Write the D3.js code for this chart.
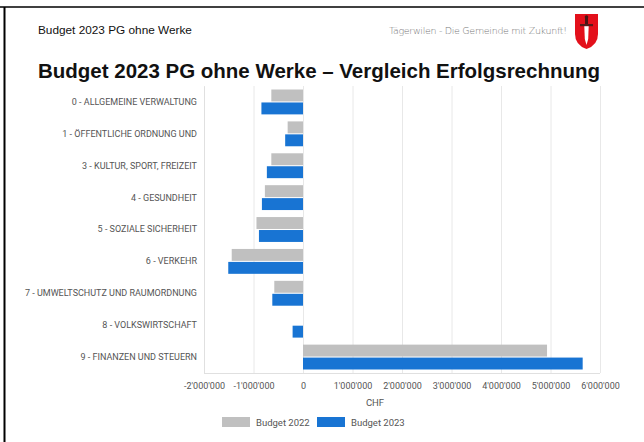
<!DOCTYPE html>
<html lang="de">
<head>
<meta charset="UTF-8">
<title>Budget 2023 PG ohne Werke</title>
<script src="https://cdn.jsdelivr.net/npm/d3@7"></script>
<style>
    body { margin: 0; background: #fff; }
    text { font-family: Roboto, "Liberation Sans", Arial, sans-serif; }
    .grid line { stroke: #e8e8e8; }
</style>
</head>
<body>
<script>
    // Kategorien (Funktionen)
    var categories = [
        "0 - ALLGEMEINE VERWALTUNG",
        "1 - ÖFFENTLICHE ORDNUNG UND",
        "3 - KULTUR, SPORT, FREIZEIT",
        "4 - GESUNDHEIT",
        "5 - SOZIALE SICHERHEIT",
        "6 - VERKEHR",
        "7 - UMWELTSCHUTZ UND RAUMORDNUNG",
        "8 - VOLKSWIRTSCHAFT",
        "9 - FINANZEN UND STEUERN"
    ];
    var budget2022 = [-640000, -310000, -640000, -770000, -940000, -1440000, -580000, 0, 4930000];
    var budget2023 = [-840000, -360000, -730000, -830000, -890000, -1510000, -620000, -210000, 5650000];
    var seriesNames = ["Budget 2022", "Budget 2023"];
    var seriesColors = ["#c0c0c0", "#1874d3"];
    var xTicks = [-2000000, -1000000, 0, 1000000, 2000000, 3000000, 4000000, 5000000, 6000000];

    var W = 644, H = 442;
    var svg = d3.select("body").append("svg")
        .attr("width", W).attr("height", H);

    // Rahmen
    svg.append("line").attr("x1", 0).attr("x2", W).attr("y1", 7).attr("y2", 7)
        .attr("stroke", "#000").attr("stroke-width", 1.5);
    svg.append("line").attr("x1", 4.5).attr("x2", 4.5).attr("y1", 7).attr("y2", H)
        .attr("stroke", "#000").attr("stroke-width", 2);

    // Kopfzeile
    svg.append("text").attr("x", 38).attr("y", 34)
        .attr("font-size", "11.8px").attr("fill", "#111")
        .style("font-family", "'Liberation Sans', Arial, sans-serif")
        .text("Budget 2023 PG ohne Werke");
    svg.append("text").attr("x", 567).attr("y", 34)
        .attr("text-anchor", "end")
        .attr("font-size", "9.5px").attr("fill", "#777")
        .style("font-family", "'DejaVu Sans', sans-serif")
        .style("font-weight", "200")
        .attr("textLength", 178)
        .text("Tägerwilen - Die Gemeinde mit Zukunft!");

    // Wappen
    var logo = svg.append("g").attr("transform", "translate(575,14)");
    logo.append("path")
        .attr("d", "M0,0 H23 V20 Q23,31 11.5,35 Q0,31 0,20 Z")
        .attr("fill", "#e3101b");
    logo.append("path")
        .attr("d", "M9.3,12 H13.7 L13.2,25 L11.5,31 L9.8,25 Z")
        .attr("fill", "#fff");
    logo.append("rect").attr("x", 5).attr("y", 10).attr("width", 13).attr("height", 2.2)
        .attr("fill", "#5a1a1a");
    logo.append("rect").attr("x", 10).attr("y", 3).attr("width", 3).attr("height", 7)
        .attr("fill", "#4a1515");
    logo.append("circle").attr("cx", 11.5).attr("cy", 3).attr("r", 1.8)
        .attr("fill", "#4a1515");

    // Titel
    svg.append("text").attr("x", 38).attr("y", 78)
        .attr("font-size", "20.5px").attr("font-weight", "bold").attr("fill", "#111")
        .style("font-family", "'Liberation Sans', Arial, sans-serif")
        .attr("textLength", 562)
        .text("Budget 2023 PG ohne Werke – Vergleich Erfolgsrechnung");

    // Skalen
    var x = d3.scaleLinear().domain([-2000000, 6000000]).range([204, 600]);
    var y = d3.scaleBand().domain(categories).range([86, 373]).paddingInner(0.22).paddingOuter(0.11);
    var ySub = d3.scaleBand().domain(seriesNames).range([0, y.bandwidth()]).paddingInner(0.08);

    // Gitter
    svg.append("g").attr("class", "grid")
        .selectAll("line").data(xTicks).enter().append("line")
        .attr("x1", d => x(d) + 0.5).attr("x2", d => x(d) + 0.5)
        .attr("y1", 86).attr("y2", 373);
    svg.append("line").attr("x1", 204).attr("x2", 600).attr("y1", 373.5).attr("y2", 373.5)
        .attr("stroke", "#e0e0e0");

    // Balken
    var series = [budget2022, budget2023];
    series.forEach(function (vals, s) {
        svg.append("g").selectAll("rect")
            .data(vals).enter().append("rect")
            .attr("x", d => x(Math.min(0, d)))
            .attr("width", d => Math.abs(x(d) - x(0)))
            .attr("y", (d, i) => y(categories[i]) + ySub(seriesNames[s]))
            .attr("height", ySub.bandwidth())
            .attr("fill", seriesColors[s]);
    });

    // Achsen
    var fmt = function (d) {
        return d3.format(",")(d).replace(/,/g, "'").replace("−", "-");
    };
    var xAxis = svg.append("g").attr("transform", "translate(0,373)")
        .call(d3.axisBottom(x).tickValues(xTicks).tickFormat(fmt).tickSize(0).tickPadding(10));
    xAxis.select(".domain").remove();
    xAxis.selectAll("text").attr("font-size", "9px").attr("fill", "#555")
        .style("font-family", "Roboto, sans-serif");

    var yAxis = svg.append("g").attr("transform", "translate(204,0)")
        .call(d3.axisLeft(y).tickSize(0).tickPadding(7));
    yAxis.select(".domain").attr("stroke", "#e0e0e0");
    yAxis.selectAll("text").attr("font-size", "9px").attr("fill", "#555")
        .style("font-family", "Roboto, sans-serif");

    svg.append("text").attr("x", 375).attr("y", 406).attr("text-anchor", "middle")
        .attr("font-size", "9.5px").attr("fill", "#555").text("CHF");

    // Legende
    var legend = svg.append("g").attr("transform", "translate(222,417)");
    var lx = [0, 95];
    seriesNames.forEach(function (n, i) {
        legend.append("rect").attr("x", lx[i]).attr("y", 0).attr("width", 28).attr("height", 10)
            .attr("fill", seriesColors[i]);
        legend.append("text").attr("x", lx[i] + 34).attr("y", 9)
            .attr("font-size", "9.5px").attr("fill", "#555").text(n);
    });
</script>
</body>
</html>
